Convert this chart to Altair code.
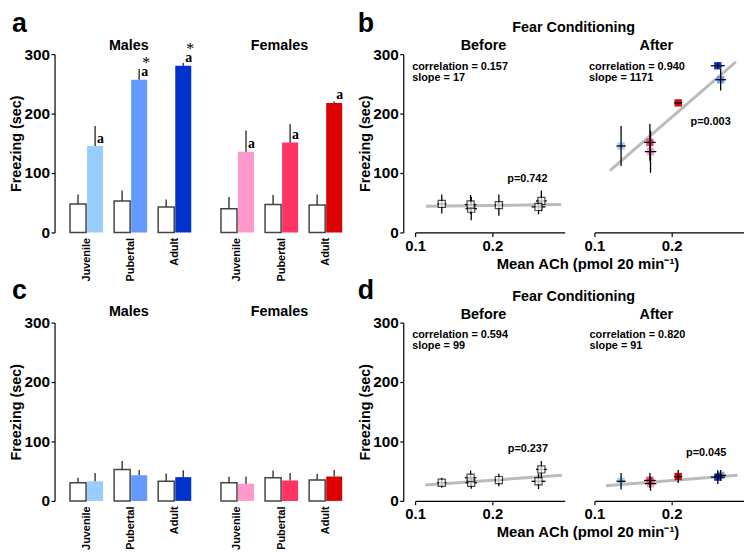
import altair as alt
import pandas as pd

FONT = "Liberation Sans"
SERIF = "Liberation Serif"

ages = ["Juvenile", "Pubertal", "Adult"]
male_groups = ["JM", "PM", "AM"]
female_groups = ["JF", "PF", "AF"]
all_groups = male_groups + female_groups
group_colors = ["#99ccff", "#6699ff", "#0033cc", "#ff99cc", "#ff3366", "#dd0000"]

# Panel a: freezing (sec) before / after fear conditioning, mean and SEM (Juvenile, Pubertal, Adult)
a_male_before = [48, 53, 43]
a_male_before_sem = [16, 17.5, 12.5]
a_male_after = [145.5, 257, 280.5]
a_male_after_sem = [33.5, 18, 4.5]
a_female_before = [40, 47, 46]
a_female_before_sem = [19.5, 16, 18]
a_female_after = [136, 151.5, 218]
a_female_after_sem = [35.5, 31, 2.5]
a_male_letters = ["a", "a", "a"]
a_male_stars = ["", "*", "*"]
a_female_letters = ["a", "a", "a"]
a_female_stars = ["", "", ""]

# Panel c
c_male_before = [30.5, 53, 33]
c_male_before_sem = [8.5, 14, 13]
c_male_after = [33, 43, 40]
c_male_after_sem = [14, 9, 11.5]
c_female_before = [30.5, 39, 35]
c_female_before_sem = [10, 12, 10.5]
c_female_after = [29, 34.5, 41]
c_female_after_sem = [12, 12.5, 11]
no_marks = ["", "", ""]

# Mean ACh (pmol 20 min-1) per group, order JM PM AM JF PF AF
ach_mean = [0.1345, 0.2634, 0.2597, 0.1726, 0.1718, 0.2084]
ach_sem = [0.006, 0.007, 0.009, 0.0075, 0.0075, 0.0053]

# regression lines (end points)
b_before_fit_x = [0.114, 0.289]
b_before_fit_y = [44, 47]
b_after_fit_x = [0.12, 0.283]
b_after_fit_y = [104, 287]
d_before_fit_x = [0.113, 0.29]
d_before_fit_y = [26.7, 43.3]
d_after_fit_x = [0.115, 0.285]
d_after_fit_y = [25.6, 43.3]

b_before_stats = "correlation = 0.157\nslope = 17"
b_after_stats = "correlation = 0.940\nslope = 1171"
d_before_stats = "correlation = 0.594\nslope = 99"
d_after_stats = "correlation = 0.820\nslope = 91"
b_before_p = "p=0.742"
b_after_p = "p=0.003"
d_before_p = "p=0.237"
d_after_p = "p=0.045"

x_title = "Mean ACh (pmol 20 min\u207b\u00b9)"


def y_axis(offset=0):
    return alt.Axis(values=[0, 100, 200, 300], title="Freezing (sec)", offset=offset, grid=False,
                    tickSize=3.5, tickColor="black", tickWidth=1.2, domainColor="black", domainWidth=1.2,
                    labelFontSize=15.5, labelFontWeight="bold", labelColor="black", labelPadding=1.5,
                    titleFontSize=14.5, titleFontWeight="bold", titleColor="black", titlePadding=0.5)


def text_layer(txt, x, y, size, weight="bold", align="left", font=FONT):
    return alt.Chart(pd.DataFrame({"t": [txt]})).mark_text(
        align=align, baseline="alphabetic", fontSize=size, fontWeight=weight, font=font,
        color="black", lineBreak="\n", lineHeight=11.5
    ).encode(x=alt.value(x), y=alt.value(y), text="t:N")


def bar_panel(before, before_sem, after, after_sem, groups, letters, stars, title, title_x, title_y,
              show_y, pad_outer, band_align, width, panel_letter=None, letter_y=-22):
    df = pd.DataFrame({
        "age": ages * 2,
        "cond": ["Before"] * 3 + ["After"] * 3,
        "key": ["Before"] * 3 + groups,
        "mean": before + after,
        "sem": before_sem + after_sem,
        "letter": [""] * 3 + letters,
        "star": [""] * 3 + stars,
    })
    base = alt.Chart(df).transform_calculate(top="datum.mean + datum.sem")
    x = alt.X("age:N", sort=ages, title=None,
              scale=alt.Scale(paddingInner=0.25, paddingOuter=pad_outer, align=band_align),
              axis=alt.Axis(labelAngle=-90, domain=False, ticks=False, labelPadding=5,
                            labelFontSize=11, labelFontWeight="bold", labelColor="black"))
    xo = alt.XOffset("cond:N", sort=["Before", "After"], scale=alt.Scale(paddingInner=0.06))
    y = alt.Y("mean:Q", scale=alt.Scale(domain=[0, 300], nice=False),
              axis=y_axis() if show_y else None)
    bars = base.mark_bar(strokeWidth=1.5).encode(
        x=x, xOffset=xo, y=y,
        fill=alt.Fill("key:N", scale=alt.Scale(domain=["Before"] + all_groups,
                                               range=["#ffffff"] + group_colors), legend=None),
        stroke=alt.condition("datum.cond == 'Before'", alt.value("#444444"), alt.value("transparent")),
    )
    err = base.mark_rule(color="#333333", strokeWidth=1.4).encode(x=x, xOffset=xo, y=y, y2="top:Q")
    lets = base.transform_filter("datum.letter != ''").mark_text(
        font=SERIF, fontWeight="bold", fontSize=14, align="left", baseline="alphabetic",
        dx=2, dy=-3.5, color="black").encode(x=x, xOffset=xo, y=y, text="letter:N")
    sts = base.transform_filter("datum.star != ''").mark_text(
        font=SERIF, fontSize=16, align="center", baseline="alphabetic",
        dx=7, dy=-12, color="black").encode(x=x, xOffset=xo, y=y, text="star:N")
    layers = [bars, err, lets, sts, text_layer(title, title_x, title_y, 14.5, align="center")]
    if panel_letter:
        layers.append(text_layer(panel_letter, -43, letter_y, 27))
    return alt.layer(*layers).properties(width=width, height=180)


def scatter_panel(means, sems, fit_x, fit_y, stats, stats_x, ptext, p_x, p_y, after, show_y,
                  title, title_x, title_y=-4, stats_y=16, extra=None):
    df = pd.DataFrame({"grp": all_groups, "ach": ach_mean, "ach_sem": ach_sem,
                       "mean": means, "sem": sems})
    base = alt.Chart(df).transform_calculate(
        lo="datum.mean - datum.sem", hi="datum.mean + datum.sem",
        xlo="datum.ach - datum.ach_sem", xhi="datum.ach + datum.ach_sem")
    xscale = alt.Scale(domain=[0.1, 0.2936], nice=False, zero=False)
    yscale = alt.Scale(domain=[0, 300], nice=False)
    common = dict(values=[0.1, 0.2], format=".1f", grid=False, tickSize=4, tickColor="black",
                  tickWidth=1.2, domainColor="black", domainWidth=1.2, labelFontSize=15,
                  labelFontWeight="bold", labelColor="black", labelPadding=2, labelFlush=False)
    if show_y:
        xaxis = alt.Axis(title=x_title, titleX=174, titleY=36, titleBaseline="alphabetic",
                         titleFontSize=15, titleFontWeight="bold", titleColor="black", **common)
    else:
        xaxis = alt.Axis(title=None, **common)
    yaxis = y_axis(offset=12) if show_y else None

    def X(f):
        return alt.X(f, scale=xscale, axis=xaxis)

    def Y(f):
        return alt.Y(f, scale=yscale, axis=yaxis)

    fit = alt.Chart(pd.DataFrame({"x": fit_x, "y": fit_y})).mark_line(
        color="#bbbbbb", strokeWidth=3).encode(x=X("x:Q"), y=Y("y:Q"))
    vrule = base.mark_rule(color="black", strokeWidth=1.3).encode(x=X("ach:Q"), y=Y("lo:Q"), y2="hi:Q")
    hrule = base.mark_rule(color="black", strokeWidth=1.3).encode(x=X("xlo:Q"), x2="xhi:Q", y=Y("mean:Q"))
    if after:
        pts = base.mark_square(size=56, opacity=0.95).encode(
            x=X("ach:Q"), y=Y("mean:Q"),
            color=alt.Color("grp:N", scale=alt.Scale(domain=all_groups, range=group_colors), legend=None))
        layers = [fit, pts, vrule, hrule]
    else:
        pts = base.mark_square(size=52, filled=True, fill="white", stroke="black", strokeWidth=1.2).encode(
            x=X("ach:Q"), y=Y("mean:Q"))
        layers = [fit, vrule, hrule, pts]
    layers.append(text_layer(stats, stats_x, stats_y, 11))
    layers.append(text_layer(ptext, p_x, p_y, 11))
    layers.append(text_layer(title, title_x, title_y, 14.5, align="center"))
    if extra:
        layers.extend(extra)
    return alt.layer(*layers).properties(width=151, height=180)


# males panel: plot 138 px wide, bands pushed right; females panel: 166 px wide, bands at left
a_m = bar_panel(a_male_before, a_male_before_sem, a_male_after, a_male_after_sem, male_groups,
                a_male_letters, a_male_stars, "Males", 75, -4, True, 0.1756, 1, 138, "a", -22)
a_f = bar_panel(a_female_before, a_female_before_sem, a_female_after, a_female_after_sem, female_groups,
                a_female_letters, a_female_stars, "Females", 59, -4, False, 0.49, 0, 166)
c_m = bar_panel(c_male_before, c_male_before_sem, c_male_after, c_male_after_sem, male_groups,
                no_marks, no_marks, "Males", 75, -6.5, True, 0.1756, 1, 138, "c", -23.5)
c_f = bar_panel(c_female_before, c_female_before_sem, c_female_after, c_female_after_sem, female_groups,
                no_marks, no_marks, "Females", 59, -6.5, False, 0.49, 0, 166)

b_before = scatter_panel(a_male_before + a_female_before, a_male_before_sem + a_female_before_sem,
                         b_before_fit_x, b_before_fit_y, b_before_stats, -3, b_before_p, 93, 129,
                         False, True, "Before", 69,
                         extra=[text_layer("Fear Conditioning", 160, -22, 14.5, align="center"),
                                text_layer("b", -58, -22, 27)])
b_after = scatter_panel(a_male_after + a_female_after, a_male_after_sem + a_female_after_sem,
                        b_after_fit_x, b_after_fit_y, b_after_stats, -5.5, b_after_p, 97, 72,
                        True, False, "After", 62.5)
d_before = scatter_panel(c_male_before + c_female_before, c_male_before_sem + c_female_before_sem,
                         d_before_fit_x, d_before_fit_y, d_before_stats, -3, d_before_p, 93.5, 130.5,
                         False, True, "Before", 69, title_y=-3.5, stats_y=15.5,
                         extra=[text_layer("Fear Conditioning", 160, -22, 14.5, align="center"),
                                text_layer("d", -58, -23.5, 27)])
d_after = scatter_panel(c_male_after + c_female_after, c_male_after_sem + c_female_after_sem,
                        d_after_fit_x, d_after_fit_y, d_after_stats, -5, d_after_p, 92.5, 134.5,
                        True, False, "After", 62.5, title_y=-3.5, stats_y=15.5)

chart = alt.concat(
    a_m, a_f, b_before, b_after, c_m, c_f, d_before, d_after,
    columns=4, spacing={"row": 91, "column": 30}, bounds="flush"
).properties(
    padding={"left": 0, "top": 0, "right": 0, "bottom": 0}
).configure(font=FONT).configure_view(stroke=None)

chart.save("out.html", embed_options={"renderer": "svg", "actions": False})
